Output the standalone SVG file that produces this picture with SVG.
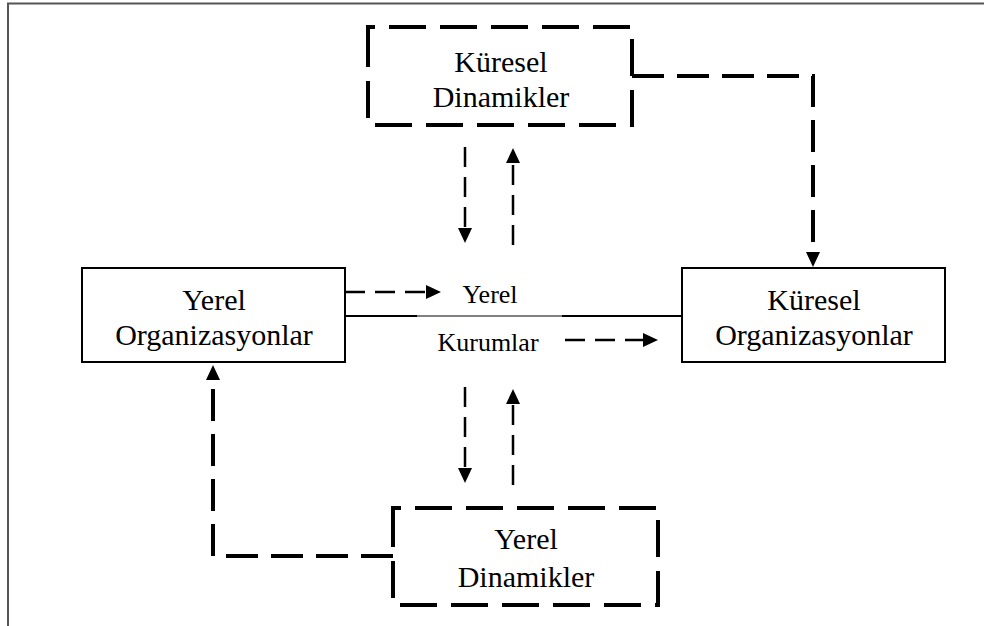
<svg xmlns="http://www.w3.org/2000/svg" width="984" height="626" viewBox="0 0 984 626">
  <style>
    .frame { fill: none; stroke: #555; stroke-width: 2; }
    .box { fill: #fff; stroke: #000; stroke-width: 2; }
    .dbox { fill: none; stroke: #000; stroke-width: 4; stroke-dasharray: 37 14; }
    .link { fill: none; stroke: #000; stroke-width: 4; stroke-dasharray: 32 13; }
    .flow { fill: none; stroke: #000; stroke-width: 2.5; stroke-dasharray: 20 10; }
    .lbl { font-family: "Liberation Serif", "Times New Roman", serif; font-size: 30px; fill: #000; text-anchor: middle; }
    .mid { font-family: "Liberation Serif", "Times New Roman", serif; font-size: 26px; fill: #000; text-anchor: middle; }
  </style>
  <defs>
    <marker id="arrow" markerUnits="userSpaceOnUse" viewBox="0 -7 15 14" markerWidth="15" markerHeight="14" refX="0" refY="0" orient="auto">
      <path d="M0,-7 L15,0 L0,7 Z" fill="#000"/>
    </marker>
  </defs>

  <rect width="984" height="626" fill="#fff"/>
  <!-- page frame -->
  <path class="frame" d="M8,626 V3.5 H984"/>

  <g id="connectors">
    <!-- straight rail joining the two organisation boxes -->
    <line x1="345" y1="316" x2="682" y2="316" stroke="#000" stroke-width="1"/>
    <line x1="345" y1="316" x2="417" y2="316" stroke="#000" stroke-width="2"/>
    <line x1="562" y1="316" x2="682" y2="316" stroke="#000" stroke-width="2"/>
    <!-- flows through local institutions -->
    <path class="flow" d="M345,292 H426" marker-end="url(#arrow)"/>
    <path class="flow" d="M565,340 H643" marker-end="url(#arrow)"/>
    <!-- global dynamics <-> local institutions -->
    <path class="flow" d="M465,147 V228" marker-end="url(#arrow)"/>
    <path class="flow" d="M513,245 V163" marker-end="url(#arrow)"/>
    <!-- local dynamics <-> local institutions -->
    <path class="flow" d="M465,387 V468" marker-end="url(#arrow)"/>
    <path class="flow" d="M513,485 V404" marker-end="url(#arrow)"/>
    <!-- global dynamics -> global organisations -->
    <path class="link" d="M632,76 H813 V252" marker-end="url(#arrow)"/>
    <!-- local dynamics -> local organisations -->
    <path class="link" d="M393,556 H213 V380" marker-end="url(#arrow)"/>
  </g>

  <g id="kuresel-dinamikler">
    <path class="dbox" d="M368,57 V27 H632 V125 H368 Z"/>
    <text class="lbl" x="501" y="72">Küresel</text>
    <text class="lbl" x="501" y="107">Dinamikler</text>
  </g>

  <g id="yerel-organizasyonlar">
    <rect class="box" x="82" y="268" width="263" height="94"/>
    <text class="lbl" x="214" y="310">Yerel</text>
    <text class="lbl" x="214" y="345">Organizasyonlar</text>
  </g>

  <g id="kuresel-organizasyonlar">
    <rect class="box" x="682" y="268" width="263" height="94"/>
    <text class="lbl" x="814" y="310">Küresel</text>
    <text class="lbl" x="814" y="345">Organizasyonlar</text>
  </g>

  <g id="yerel-kurumlar">
    <text class="mid" x="490" y="303">Yerel</text>
    <text class="mid" x="488" y="351">Kurumlar</text>
  </g>

  <g id="yerel-dinamikler">
    <path class="dbox" d="M393,537 V508 H658 V605 H393 Z"/>
    <text class="lbl" x="526" y="549">Yerel</text>
    <text class="lbl" x="526" y="587">Dinamikler</text>
  </g>
</svg>
